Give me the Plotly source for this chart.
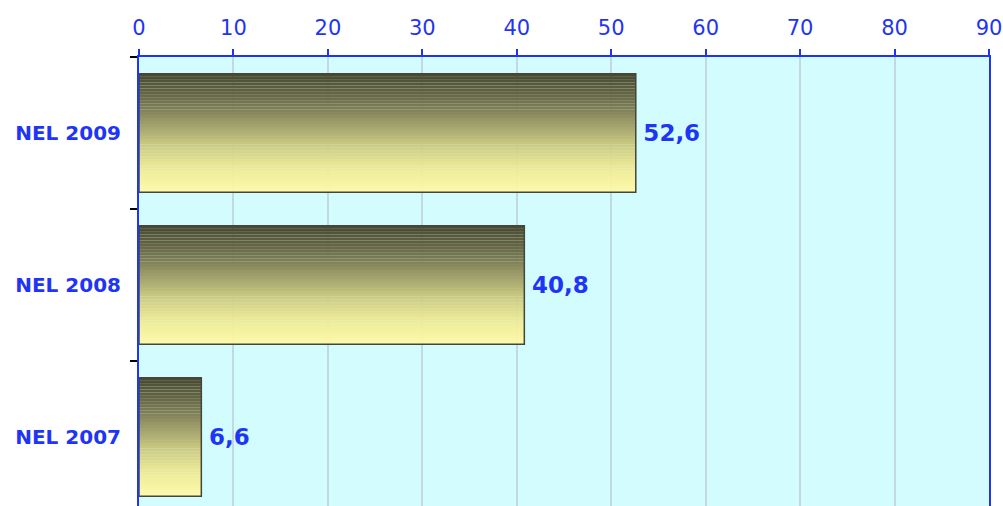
import plotly.graph_objects as go

categories = ["NEL 2007", "NEL 2008", "NEL 2009"]
values = [6.6, 40.8, 52.6]
x_ticks = [0, 10, 20, 30, 40, 50, 60, 70, 80, 90]

# gradient stops (fraction from top of bar -> rgb)
grad_stops = [
    (0.00, (72, 72, 48)),
    (0.15, (98, 98, 66)),
    (0.30, (128, 128, 88)),
    (0.45, (165, 165, 112)),
    (0.60, (203, 202, 130)),
    (0.80, (238, 234, 150)),
    (1.00, (255, 250, 165)),
]

def interp(t):
    for (t0, c0), (t1, c1) in zip(grad_stops[:-1], grad_stops[1:]):
        if t0 <= t <= t1:
            f = (t - t0) / (t1 - t0) if t1 > t0 else 0
            return "rgb(%d,%d,%d)" % tuple(round(a + (b - a) * f) for a, b in zip(c0, c1))
    return "rgb(%d,%d,%d)" % grad_stops[-1][1]

BW = 0.78
N = 40
BLUE = "#1f35f5"

fig = go.Figure()
for i in range(N):
    fig.add_trace(go.Bar(
        y=categories, x=values, orientation="h",
        width=BW / N * 1.05, offset=BW / 2 - (i + 1) * BW / N,
        marker=dict(color=interp((i + 0.5) / N), line=dict(width=0)),
        hoverinfo="skip", showlegend=False,
    ))

fig.add_trace(go.Bar(
    y=categories, x=values, orientation="h", width=BW,
    marker=dict(color="rgba(0,0,0,0)", line=dict(color="#45453a", width=1.5)),
    texttemplate="\u2009%{x:.1f}", textposition="outside", cliponaxis=False,
    textfont=dict(family="DejaVu Sans", size=23, color=BLUE, weight="bold"),
    showlegend=False,
))

fig.update_layout(
    width=1003, height=506,
    margin=dict(l=139, r=14, t=57, b=0),
    barmode="overlay",
    separators=",.",
    paper_bgcolor="white",
    plot_bgcolor="#d2fcfd",
    font=dict(family="DejaVu Sans", color=BLUE),
)
fig.update_xaxes(
    side="top", range=[0, 90], tickvals=x_ticks,
    showgrid=True, gridcolor="#c2d8e2", gridwidth=1.5,
    showline=True, linecolor=BLUE, linewidth=2,
    ticks="outside", ticklen=6, tickcolor=BLUE, tickwidth=2,
    tickfont=dict(family="DejaVu Sans", size=21, color=BLUE),
    ticklabelstandoff=6, zeroline=False,
)
fig.update_yaxes(
    type="category", categoryorder="array", categoryarray=categories,
    range=[-0.454, 2.5],
    showline=True, linecolor=BLUE, linewidth=2, mirror=True,
    ticks="outside", tickson="boundaries", ticklen=7, tickcolor="black", tickwidth=1.5,
    tickfont=dict(family="DejaVu Sans", size=20, color=BLUE, weight="bold"),
    ticklabelstandoff=12, showgrid=False,
)

fig.write_html("out.html")
